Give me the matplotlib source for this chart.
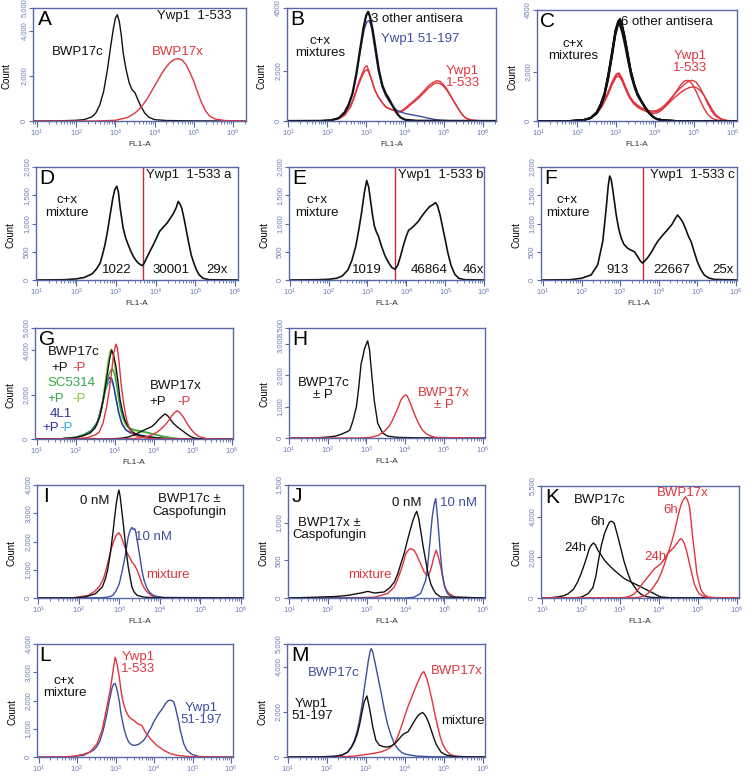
import matplotlib
matplotlib.use('Agg')
import matplotlib.pyplot as plt
import numpy as np
from matplotlib.ticker import LogLocator, NullFormatter

plt.rcParams['font.family'] = ['Liberation Sans', 'DejaVu Sans']
plt.rcParams['mathtext.fontset'] = 'custom'
plt.rcParams['mathtext.rm'] = 'Liberation Sans'
plt.rcParams['mathtext.it'] = 'Liberation Sans'

# ---------------- DATA (log10 FL1-A, count) ----------------
A_c = [(0.9,0),(1.5,5),(2.0,30),(2.2,60),(2.4,180),(2.5,350),(2.6,700),(2.7,1300),(2.8,2300),(2.88,3300),(2.95,4100),(3.0,4550),(3.05,4700),(3.1,4400),(3.15,3800),(3.2,3000),(3.27,2300),(3.35,1700),(3.42,1400),(3.5,1250),(3.56,1000),(3.65,650),(3.75,350),(3.85,170),(4.0,60),(4.3,20),(5.0,5),(6.3,0)]
A_x = [(0.9,0),(2.5,0),(3.0,30),(3.3,150),(3.5,350),(3.65,600),(3.8,950),(3.9,1250),(4.0,1550),(4.1,1850),(4.2,2150),(4.3,2400),(4.4,2600),(4.5,2720),(4.6,2760),(4.7,2700),(4.8,2500),(4.9,2150),(5.0,1750),(5.1,1250),(5.2,800),(5.3,450),(5.4,220),(5.55,80),(5.8,20),(6.3,0)]

B_black = [(0.97,0),(1.8,5),(2.1,30),(2.3,120),(2.45,350),(2.55,650),(2.65,1100),(2.75,1900),(2.85,2900),(2.93,3700),(3.0,4200),(3.05,4350),(3.1,4150),(3.17,3600),(3.25,2800),(3.33,2000),(3.42,1400),(3.5,1100),(3.58,900),(3.68,600),(3.78,320),(3.88,140),(4.0,50),(4.3,10),(6.3,0)]
B_blue = [(0.97,0),(1.8,5),(2.1,30),(2.3,110),(2.45,320),(2.55,600),(2.65,1050),(2.75,1800),(2.85,2800),(2.95,3650),(3.02,3950),(3.08,4000),(3.14,3700),(3.22,2900),(3.3,2100),(3.4,1400),(3.5,1000),(3.6,750),(3.7,550),(3.8,420),(3.9,350),(4.0,300),(4.2,240),(4.4,180),(4.6,110),(4.8,50),(5.0,20),(5.3,5),(6.3,0)]
B_red1 = [(0.97,0),(1.8,5),(2.1,30),(2.3,100),(2.45,250),(2.6,600),(2.7,1000),(2.8,1500),(2.9,1900),(2.97,2150),(3.02,2200),(3.08,1950),(3.15,1600),(3.22,1250),(3.3,1000),(3.4,750),(3.5,560),(3.6,480),(3.7,440),(3.82,360),(3.92,420),(4.03,550),(4.14,700),(4.25,840),(4.38,1030),(4.5,1230),(4.6,1400),(4.7,1520),(4.8,1600),(4.88,1590),(4.95,1500),(5.05,1320),(5.15,1060),(5.25,790),(5.35,520),(5.45,280),(5.55,120),(5.7,30),(6.0,5),(6.3,0)]
B_red2 = [(0.97,0),(1.8,5),(2.1,25),(2.3,90),(2.45,230),(2.6,560),(2.7,950),(2.8,1420),(2.9,1800),(2.97,2000),(3.03,2050),(3.09,1850),(3.16,1520),(3.23,1200),(3.31,960),(3.41,730),(3.51,560),(3.62,470),(3.72,420),(3.83,350),(3.93,390),(4.04,510),(4.15,660),(4.26,800),(4.39,980),(4.51,1170),(4.61,1330),(4.71,1450),(4.8,1520),(4.88,1500),(4.96,1420),(5.06,1250),(5.16,1000),(5.26,750),(5.36,490),(5.46,260),(5.56,110),(5.7,30),(6.0,5),(6.3,0)]

C_black_x = [0.97,1.8,2.15,2.35,2.5,2.6,2.7,2.8,2.9,2.98,3.05,3.1,3.15,3.22,3.3,3.38,3.47,3.55,3.65,3.75,3.85,3.95,4.05,4.25,4.55,6.1]
C_black1 = [0,5,30,120,330,620,1050,1800,2750,3550,4000,4100,3900,3400,2700,2000,1450,1100,800,550,330,170,80,25,5,0]
C_black2 = [0,5,35,130,350,660,1100,1900,2850,3650,4050,4000,3750,3250,2550,1900,1400,1050,780,520,310,160,70,20,5,0]
C_black3 = [0,5,25,110,300,580,1000,1700,2650,3450,3900,3950,3800,3350,2650,1950,1450,1080,800,540,320,165,75,22,5,0]
C_black4 = [0,5,30,125,340,640,1080,1850,2800,3600,4050,4150,3950,3450,2750,2050,1500,1120,820,560,340,175,80,25,5,0]
C_black5 = [0,5,40,140,370,690,1150,1950,2900,3700,4000,3850,3600,3100,2450,1850,1350,1020,760,500,300,150,65,20,5,0]
C_black6 = [0,5,28,115,320,600,1020,1750,2700,3500,3950,4050,3850,3350,2650,1950,1420,1080,790,530,320,160,72,22,5,0]
C_red_x = [0.97,1.8,2.1,2.3,2.5,2.65,2.8,2.9,3.0,3.07,3.15,3.25,3.35,3.45,3.55,3.65,3.75,3.85,3.95,4.05,4.15,4.25,4.35,4.45,4.55,4.65,4.75,4.85,4.95,5.05,5.15,5.25,5.35,5.45,5.55,5.7,5.85,6.1]
C_red1 = [0,5,30,90,300,650,1150,1550,1850,1900,1700,1300,950,720,580,480,400,330,300,330,420,560,760,980,1220,1450,1620,1650,1500,1200,850,520,270,120,50,15,5,0]
C_red2 = [0,5,30,95,320,680,1200,1600,1900,1950,1750,1350,1000,780,640,540,470,420,400,430,520,650,820,1000,1180,1340,1480,1600,1650,1580,1350,1050,700,400,200,60,15,0]
C_red3 = [0,5,25,85,280,620,1100,1480,1780,1820,1620,1250,920,700,560,470,410,370,360,390,470,580,720,880,1020,1150,1260,1340,1380,1360,1250,1050,780,500,260,80,20,0]

D_curve = [(0.98,0),(1.7,5),(2.0,20),(2.2,45),(2.4,110),(2.5,190),(2.6,300),(2.66,450),(2.72,620),(2.79,880),(2.85,1150),(2.92,1450),(2.97,1600),(3.02,1660),(3.06,1560),(3.1,1300),(3.18,920),(3.25,730),(3.31,620),(3.38,500),(3.44,415),(3.5,350),(3.56,300),(3.62,270),(3.67,255),(3.72,310),(3.77,385),(3.85,500),(3.94,620),(4.02,740),(4.1,860),(4.2,940),(4.28,1000),(4.36,1080),(4.45,1180),(4.52,1280),(4.57,1390),(4.62,1340),(4.66,1270),(4.72,1080),(4.78,860),(4.84,640),(4.9,440),(4.97,290),(5.03,180),(5.1,90),(5.2,30),(5.35,5),(6.08,0)]
E_curve = [(0.98,0),(1.7,5),(2.0,12),(2.2,30),(2.35,70),(2.5,180),(2.6,350),(2.7,600),(2.78,900),(2.85,1200),(2.92,1550),(2.98,1760),(3.03,1650),(3.08,1400),(3.13,1150),(3.18,950),(3.23,850),(3.28,780),(3.35,620),(3.45,430),(3.55,300),(3.63,220),(3.71,190),(3.78,260),(3.85,420),(3.92,600),(4.0,780),(4.06,880),(4.12,910),(4.2,960),(4.3,1030),(4.4,1130),(4.5,1220),(4.6,1300),(4.68,1330),(4.75,1370),(4.8,1320),(4.87,1150),(4.93,950),(5.0,720),(5.07,480),(5.15,260),(5.25,100),(5.35,30),(5.5,5),(6.0,0)]
F_curve = [(0.95,0),(1.7,5),(2.0,30),(2.25,90),(2.42,270),(2.55,680),(2.64,1270),(2.69,1650),(2.73,1840),(2.77,1780),(2.81,1600),(2.86,1350),(2.9,1150),(2.96,920),(3.03,740),(3.1,630),(3.2,560),(3.28,530),(3.37,500),(3.45,420),(3.52,340),(3.58,300),(3.63,330),(3.72,400),(3.8,480),(3.9,600),(3.97,680),(4.1,790),(4.23,890),(4.35,990),(4.44,1100),(4.49,1150),(4.55,1100),(4.62,1030),(4.7,900),(4.78,760),(4.84,680),(4.92,500),(5.0,330),(5.08,200),(5.18,90),(5.3,35),(5.45,10),(6.03,0)]
D_gate, E_gate, F_gate = 3.67, 3.71, 3.59

G_c_plus = [(0.96,0),(1.6,5),(2.0,60),(2.2,150),(2.37,270),(2.5,500),(2.62,1000),(2.72,1900),(2.8,2800),(2.87,3600),(2.92,4000),(2.97,3800),(3.03,3300),(3.09,2500),(3.14,1750),(3.2,1250),(3.26,860),(3.35,550),(3.44,340),(3.55,220),(3.65,150),(3.85,80),(4.0,60),(4.3,20),(4.7,5),(6.03,0)]
G_c_minus = [(0.96,0),(1.8,5),(2.1,30),(2.3,60),(2.5,180),(2.6,300),(2.7,700),(2.8,1500),(2.87,2300),(2.92,3000),(2.97,3800),(3.03,4270),(3.07,4100),(3.11,3500),(3.17,2400),(3.23,1600),(3.3,900),(3.38,450),(3.48,200),(3.6,100),(3.8,40),(4.1,10),(6.03,0)]
G_sc_plus = [(0.96,0),(1.6,5),(2.0,80),(2.2,180),(2.4,350),(2.55,700),(2.67,1400),(2.77,2300),(2.85,2900),(2.9,3100),(2.95,3150),(3.0,2900),(3.06,2300),(3.12,1600),(3.2,1000),(3.3,650),(3.4,480),(3.5,420),(3.62,380),(3.75,330),(3.9,270),(4.05,200),(4.2,140),(4.4,70),(4.6,25),(5.0,5),(6.03,0)]
G_sc_minus = [(0.96,0),(1.6,5),(2.0,70),(2.2,170),(2.4,330),(2.55,650),(2.67,1450),(2.76,2600),(2.83,3500),(2.88,3950),(2.92,4050),(2.97,3700),(3.03,2900),(3.1,1900),(3.18,1100),(3.27,650),(3.38,450),(3.5,380),(3.62,340),(3.75,300),(3.9,240),(4.05,180),(4.2,120),(4.4,60),(4.6,20),(5.0,5),(6.03,0)]
G_4l1_plus = [(0.96,0),(1.6,5),(2.0,80),(2.2,190),(2.4,380),(2.55,750),(2.67,1500),(2.76,2300),(2.83,2650),(2.88,2780),(2.93,2700),(2.98,2350),(3.04,1750),(3.1,1200),(3.18,700),(3.28,420),(3.4,280),(3.55,200),(3.7,150),(3.9,90),(4.1,50),(4.4,15),(6.03,0)]
G_4l1_minus = [(0.96,0),(1.6,5),(2.0,70),(2.2,170),(2.4,350),(2.55,700),(2.67,1400),(2.76,2150),(2.83,2500),(2.89,2620),(2.94,2550),(2.99,2250),(3.05,1700),(3.12,1100),(3.2,650),(3.3,400),(3.42,280),(3.55,210),(3.7,160),(3.9,100),(4.1,55),(4.4,15),(6.03,0)]
G_x_plus = [(0.96,0),(2.8,0),(3.0,15),(3.2,40),(3.35,90),(3.5,180),(3.62,290),(3.75,400),(3.85,480),(3.95,560),(4.04,700),(4.12,860),(4.2,1000),(4.29,1130),(4.35,1060),(4.4,950),(4.5,710),(4.62,520),(4.76,340),(4.85,220),(4.93,120),(5.05,40),(5.19,10),(6.03,0)]
G_x_minus = [(0.96,0),(3.2,0),(3.5,20),(3.7,60),(3.85,120),(4.0,220),(4.1,330),(4.16,410),(4.25,560),(4.33,710),(4.4,880),(4.46,1040),(4.53,1180),(4.59,1270),(4.65,1220),(4.72,1080),(4.79,900),(4.85,710),(4.91,550),(4.97,410),(5.06,230),(5.15,120),(5.25,60),(5.35,20),(5.5,5),(6.03,0)]

H_c = [(1.05,0),(1.7,5),(2.0,30),(2.2,60),(2.35,120),(2.5,200),(2.57,250),(2.65,550),(2.74,990),(2.8,1600),(2.86,2350),(2.9,2550),(2.95,2850),(3.03,3090),(3.08,2800),(3.12,2230),(3.2,1200),(3.29,470),(3.42,155),(3.55,60),(3.8,20),(4.3,5),(6.06,0)]
H_x = [(1.05,0),(2.8,0),(3.1,20),(3.3,80),(3.45,200),(3.58,360),(3.67,560),(3.75,780),(3.82,980),(3.88,1190),(3.94,1300),(4.0,1370),(4.05,1340),(4.14,1090),(4.2,880),(4.27,670),(4.35,450),(4.44,260),(4.54,140),(4.64,70),(4.8,15),(6.06,0)]

I_black = [(0.97,0),(1.8,5),(2.15,35),(2.41,150),(2.58,390),(2.65,650),(2.71,980),(2.78,1600),(2.84,2280),(2.88,2800),(2.92,3290),(2.96,3650),(2.99,3820),(3.02,3600),(3.05,3230),(3.1,2600),(3.14,2050),(3.18,1550),(3.22,1100),(3.27,700),(3.31,390),(3.37,200),(3.44,95),(3.61,30),(3.9,10),(6.05,0)]
I_red = [(0.97,0),(1.9,10),(2.24,95),(2.38,220),(2.5,390),(2.6,650),(2.67,980),(2.73,1330),(2.79,1690),(2.86,2000),(2.92,2220),(2.99,2310),(3.04,2200),(3.09,1990),(3.15,1760),(3.2,1570),(3.26,1420),(3.31,1280),(3.38,1150),(3.44,980),(3.5,750),(3.56,510),(3.62,340),(3.69,210),(3.78,100),(3.86,50),(4.1,10),(6.05,0)]
I_blue = [(0.97,0),(2.58,10),(2.75,40),(2.84,95),(2.92,250),(3.0,510),(3.07,950),(3.14,1460),(3.18,1820),(3.22,2170),(3.27,2400),(3.31,2500),(3.35,2420),(3.38,2450),(3.41,2300),(3.44,2050),(3.48,1700),(3.52,1340),(3.56,950),(3.61,630),(3.67,380),(3.74,210),(3.82,110),(3.91,60),(4.1,20),(6.05,0)]

J_black = [(0.97,0),(1.66,10),(2.2,20),(2.51,35),(2.85,66),(3.03,88),(3.2,66),(3.45,80),(3.6,140),(3.71,210),(3.8,320),(3.88,455),(3.97,600),(4.05,765),(4.12,900),(4.18,1010),(4.24,1100),(4.29,1150),(4.34,1060),(4.39,900),(4.45,700),(4.52,500),(4.58,330),(4.65,190),(4.72,110),(4.78,60),(4.9,15),(6.05,0)]
J_red = [(0.97,0),(2.8,5),(3.2,10),(3.54,60),(3.71,145),(3.8,250),(3.88,365),(3.95,480),(4.01,590),(4.08,640),(4.14,655),(4.22,635),(4.28,580),(4.35,500),(4.42,420),(4.48,345),(4.54,310),(4.59,300),(4.64,360),(4.69,455),(4.74,560),(4.79,635),(4.85,540),(4.91,410),(4.95,300),(4.99,190),(5.05,110),(5.12,60),(5.29,10),(6.05,0)]
J_blue = [(0.97,0),(4.0,0),(4.22,10),(4.39,60),(4.52,235),(4.57,420),(4.61,635),(4.65,860),(4.69,1080),(4.74,1250),(4.78,1320),(4.82,1100),(4.86,855),(4.9,580),(4.95,320),(5.01,150),(5.08,60),(5.2,10),(6.05,0)]

K_black6 = [(0.97,0),(1.8,5),(2.0,40),(2.17,200),(2.3,500),(2.38,1100),(2.45,1900),(2.52,2600),(2.6,3170),(2.67,3500),(2.73,3740),(2.79,3770),(2.85,3660),(2.93,3100),(3.03,2350),(3.1,1800),(3.2,1200),(3.28,800),(3.37,540),(3.45,330),(3.54,180),(3.65,80),(3.8,30),(4.1,5),(6.05,0)]
K_black24 = [(0.97,0),(1.15,5),(1.4,50),(1.55,110),(1.66,200),(1.8,420),(1.91,790),(2.0,1200),(2.09,1690),(2.15,2050),(2.21,2430),(2.27,2620),(2.32,2700),(2.37,2600),(2.43,2340),(2.5,2150),(2.6,1850),(2.72,1600),(2.85,1360),(2.98,1150),(3.11,950),(3.24,820),(3.37,700),(3.5,580),(3.62,460),(3.75,330),(3.88,210),(3.96,120),(4.05,50),(4.3,10),(6.05,0)]
K_red24 = [(0.97,0),(2.8,5),(3.1,20),(3.25,90),(3.37,210),(3.45,400),(3.54,620),(3.62,820),(3.71,1030),(3.8,1250),(3.88,1440),(3.97,1570),(4.05,1690),(4.14,1930),(4.22,2180),(4.31,2350),(4.39,2510),(4.47,2720),(4.55,2920),(4.6,2850),(4.65,2670),(4.72,2200),(4.78,1690),(4.84,1200),(4.9,700),(4.97,400),(5.03,210),(5.13,90),(5.25,30),(5.5,5),(6.05,0)]
K_red6 = [(0.97,0),(3.2,5),(3.45,20),(3.6,90),(3.71,210),(3.84,500),(3.97,870),(4.06,1250),(4.14,1690),(4.22,2150),(4.31,2670),(4.4,3300),(4.48,3980),(4.55,4500),(4.61,4800),(4.68,4970),(4.73,4800),(4.78,4480),(4.82,3800),(4.86,3000),(4.92,2050),(4.97,1200),(5.03,700),(5.08,380),(5.16,160),(5.25,50),(5.45,10),(6.05,0)]

L_red = [(0.96,0),(1.6,5),(1.91,25),(2.17,95),(2.34,180),(2.52,470),(2.65,950),(2.76,1660),(2.86,2370),(2.92,2900),(2.95,3200),(2.99,3530),(3.02,3400),(3.05,3200),(3.1,2800),(3.14,2370),(3.18,2050),(3.23,1780),(3.28,1600),(3.34,1440),(3.4,1360),(3.47,1300),(3.57,1180),(3.68,1120),(3.77,890),(3.9,650),(4.07,410),(4.25,240),(4.42,120),(4.59,60),(4.85,20),(5.2,5),(6.05,0)]
L_blue = [(0.96,0),(1.8,5),(2.17,60),(2.43,240),(2.52,380),(2.6,590),(2.68,950),(2.76,1420),(2.81,1800),(2.86,2130),(2.91,2450),(2.95,2580),(2.99,2600),(3.02,2480),(3.05,2310),(3.1,1950),(3.14,1540),(3.19,1200),(3.23,950),(3.28,720),(3.34,530),(3.4,450),(3.47,410),(3.53,420),(3.6,450),(3.66,510),(3.73,590),(3.8,730),(3.86,890),(3.93,1060),(3.99,1240),(4.06,1400),(4.12,1540),(4.19,1660),(4.25,1780),(4.29,1880),(4.33,1950),(4.38,2000),(4.42,2010),(4.47,1990),(4.51,1950),(4.55,1780),(4.59,1540),(4.64,1250),(4.68,950),(4.73,690),(4.77,470),(4.85,240),(4.98,95),(5.16,20),(5.4,5),(6.05,0)]

M_blue = [(0.98,0),(1.8,5),(2.2,30),(2.4,90),(2.54,220),(2.63,450),(2.71,740),(2.78,1150),(2.84,1630),(2.91,2350),(2.97,3110),(3.02,3700),(3.07,4300),(3.11,4650),(3.14,4800),(3.18,4650),(3.23,4250),(3.31,3570),(3.4,2800),(3.48,2070),(3.56,1450),(3.65,960),(3.73,600),(3.82,370),(3.92,200),(4.03,120),(4.3,40),(4.7,10),(6.06,0)]
M_red = [(0.98,0),(2.3,5),(2.7,40),(3.0,110),(3.2,160),(3.4,230),(3.55,330),(3.65,450),(3.74,600),(3.82,900),(3.91,1330),(4.0,1800),(4.08,2220),(4.17,2600),(4.25,2960),(4.32,3250),(4.38,3480),(4.44,3700),(4.49,3780),(4.54,3600),(4.59,3330),(4.65,2900),(4.72,2370),(4.78,1850),(4.85,1330),(4.91,900),(4.97,590),(5.04,350),(5.1,220),(5.18,100),(5.3,40),(5.5,10),(6.06,0)]
M_black = [(0.98,0),(1.8,5),(2.2,30),(2.4,90),(2.54,220),(2.63,420),(2.71,670),(2.78,1000),(2.84,1410),(2.9,1950),(2.96,2440),(3.03,2700),(3.09,2220),(3.14,1750),(3.18,1330),(3.26,740),(3.35,520),(3.45,460),(3.52,440),(3.6,460),(3.69,520),(3.78,650),(3.86,810),(3.93,950),(3.99,1040),(4.08,1110),(4.15,1300),(4.21,1480),(4.27,1650),(4.33,1810),(4.4,1920),(4.46,1970),(4.5,1900),(4.55,1780),(4.62,1500),(4.68,1190),(4.74,880),(4.8,590),(4.87,380),(4.93,220),(5.02,120),(5.1,70),(5.3,20),(6.06,0)]

DECADES = [1, 2, 3, 4, 5, 6]

# ---------------- STYLE ----------------
W, H = 747, 776
fig = plt.figure(figsize=(W / 100, H / 100), dpi=100)
SPINE = '#5869a8'
TLAB = '#6e7db6'
RED = '#e0333d'
BLUE = '#3c4e9e'
BLACK = '#111111'
GREEN = '#35a845'
LGREEN = '#8cc63f'
NAVY = '#2e3192'
CYAN = '#27a9e1'
FS = 9.5


def make_ax(box, xlim, ymax, yticks, ylabels, fl1a=True):
    l, t, r, b = box
    ax = fig.add_axes([l / W, 1 - b / H, (r - l) / W, (b - t) / H])
    ax.set_xscale('log')
    ax.set_xlim(10 ** xlim[0], 10 ** xlim[1])
    ax.set_ylim(0, ymax)
    for s in ax.spines.values():
        s.set_color(SPINE)
        s.set_linewidth(1.0)
    ax.set_xticks([10.0 ** k for k in DECADES])
    ax.set_xticklabels([r'$10^{%d}$' % k for k in DECADES], fontsize=5.5, color=TLAB)
    ax.xaxis.set_minor_locator(LogLocator(base=10, subs=np.arange(2, 10), numticks=20))
    ax.xaxis.set_minor_formatter(NullFormatter())
    ax.tick_params(axis='x', which='major', length=4, width=0.8, color=SPINE, pad=1)
    ax.tick_params(axis='x', which='minor', length=2.5, width=0.6, color=SPINE)
    ax.set_yticks(yticks)
    ax.set_yticklabels(ylabels, rotation=90, va='center', fontsize=5.5, color=TLAB)
    ax.tick_params(axis='y', length=3, width=0.8, color=SPINE, pad=1)
    ax.set_ylabel('Count', fontsize=7)
    ax.yaxis.set_label_coords(-0.1, 0.4)
    if fl1a:
        ax.set_xlabel('FL1-A', fontsize=6, color='#333333', labelpad=1)
    return ax


def curve(ax, pts, color, lw=1.0):
    lx, n = zip(*pts)
    ax.plot(10 ** np.array(lx), n, color=color, lw=lw)


def curve2(ax, lx, n, color, lw=1.0):
    ax.plot(10 ** np.array(lx), n, color=color, lw=lw)


def letter(ax, s, x=0.025, y=0.985):
    ax.text(x, y, s, transform=ax.transAxes, fontsize=15, va='top', ha='left')


def txt(ax, x, y, s, color=BLACK, ha='left', fs=FS, ls=1.05):
    ax.text(x, y, s, transform=ax.transAxes, fontsize=fs, color=color,
            ha=ha, va='center', multialignment='center', linespacing=ls)


T5000 = ([0, 2000, 4000, 5000], ['0', '2,000', '4,000', '5,000'])
T4500 = ([0, 2000, 4500], ['0', '2,000', '4500'])
T2000 = ([0, 500, 1000, 1500, 2000], ['0', '500', '1,000', '1,500', '2,000'])
T4000 = ([0, 1000, 2000, 3000, 4000], ['0', '1,000', '2,000', '3,000', '4,000'])

# A
ax = make_ax((33, 8, 246, 121), (0.9, 6.33), 5000, *T5000)
curve(ax, A_c, BLACK)
curve(ax, A_x, RED)
letter(ax, 'A')
txt(ax, 0.58, 0.93, 'Ywp1  1-533')
txt(ax, 0.09, 0.61, 'BWP17c')
txt(ax, 0.56, 0.61, 'BWP17x', RED)

# B
ax = make_ax((287, 8, 496, 121), (0.97, 6.33), 4500, *T4500)
curve(ax, B_red1, RED)
curve(ax, B_red2, RED)
curve(ax, B_blue, BLUE)
curve(ax, B_black, BLACK, 1.6)
letter(ax, 'B', 0.015)
txt(ax, 0.40, 0.90, '3 other antisera')
txt(ax, 0.45, 0.73, 'Ywp1 51-197', BLUE)
txt(ax, 0.16, 0.655, 'c+x\nmixtures', ha='center')
txt(ax, 0.84, 0.39, 'Ywp1\n1-533', RED, ha='center')

# C
ax = make_ax((537, 10, 737, 121), (0.97, 6.1), 4500, *T4500)
for cr in (C_red1, C_red2, C_red3):
    curve2(ax, C_red_x, cr, RED)
for cb in (C_black1, C_black2, C_black3, C_black4, C_black5, C_black6):
    curve2(ax, C_black_x, cb, BLACK, 1.2)
letter(ax, 'C', 0.015)
txt(ax, 0.42, 0.89, '6 other antisera')
txt(ax, 0.18, 0.64, 'c+x\nmixtures', ha='center')
txt(ax, 0.765, 0.53, 'Ywp1\n1-533', RED, ha='center')

# D, E, F
for box, xl, data, gate, lab, title, nums, lpos in [
        ((36, 167, 238, 280), (0.98, 6.08), D_curve, D_gate, 'D', 'Ywp1  1-533 a',
         [('1022', 0.40), ('30001', 0.67), ('29x', 0.895)], (0.545, 0.155)),
        ((289, 167, 484, 280), (0.98, 6.0), E_curve, E_gate, 'E', 'Ywp1  1-533 b',
         [('1019', 0.40), ('46864', 0.72), ('46x', 0.945)], (0.56, 0.145)),
        ((541, 167, 737, 280), (0.95, 6.03), F_curve, F_gate, 'F', 'Ywp1  1-533 c',
         [('913', 0.39), ('22667', 0.665), ('25x', 0.93)], (0.555, 0.135))]:
    ax = make_ax(box, xl, 2000, *T2000)
    ax.axvline(10 ** gate, color='#c8283a', lw=1.0)
    curve(ax, data, BLACK, 1.2)
    letter(ax, lab, 0.015)
    txt(ax, lpos[0], 0.93, title)
    txt(ax, lpos[1], 0.65, 'c+x\nmixture', ha='center')
    for s, xp in nums:
        txt(ax, xp, 0.085, s, ha='center')

# G
ax = make_ax((35, 328, 233, 439), (0.96, 6.03), 5000, *T5000)
curve(ax, G_4l1_minus, CYAN)
curve(ax, G_4l1_plus, NAVY)
curve(ax, G_sc_minus, LGREEN)
curve(ax, G_sc_plus, GREEN)
curve(ax, G_c_plus, BLACK)
curve(ax, G_c_minus, RED)
curve(ax, G_x_plus, BLACK)
curve(ax, G_x_minus, RED)
letter(ax, 'G', 0.02)
txt(ax, 0.065, 0.78, 'BWP17c')
txt(ax, 0.085, 0.64, '+P')
txt(ax, 0.19, 0.64, '-P', RED)
txt(ax, 0.065, 0.505, 'SC5314', GREEN)
txt(ax, 0.065, 0.36, '+P', GREEN)
txt(ax, 0.19, 0.36, '-P', LGREEN)
txt(ax, 0.075, 0.225, '4L1', NAVY)
txt(ax, 0.035, 0.10, '+P', NAVY)
txt(ax, 0.125, 0.10, '-P', CYAN)
txt(ax, 0.58, 0.48, 'BWP17x')
txt(ax, 0.58, 0.335, '+P')
txt(ax, 0.72, 0.335, '-P', RED)

# H
ax = make_ax((289, 328, 485, 438), (1.05, 6.06), 3500,
             [0, 1000, 2000, 3000, 3500], ['0', '1,000', '2,000', '3,000', '3,500'])
curve(ax, H_c, BLACK)
curve(ax, H_x, RED)
letter(ax, 'H', 0.015)
txt(ax, 0.175, 0.445, 'BWP17c\n± P', ha='center')
txt(ax, 0.79, 0.355, 'BWP17x\n± P', RED, ha='center')

# I
ax = make_ax((37, 485, 243, 598), (0.97, 6.05), 4000, *T4000)
curve(ax, I_red, RED)
curve(ax, I_blue, BLUE)
curve(ax, I_black, BLACK)
letter(ax, 'I', 0.03)
txt(ax, 0.21, 0.86, '0 nM')
txt(ax, 0.74, 0.82, 'BWP17c ±\nCaspofungin', ha='center')
txt(ax, 0.476, 0.54, '10 nM', BLUE)
txt(ax, 0.53, 0.20, 'mixture', RED)

# J
ax = make_ax((288, 485, 485, 598), (0.97, 6.05), 1500,
             [0, 500, 1000, 1500], ['0', '500', '1,000', '1,500'])
curve(ax, J_red, RED)
curve(ax, J_blue, BLUE)
curve(ax, J_black, BLACK)
letter(ax, 'J', 0.02)
txt(ax, 0.53, 0.84, '0 nM')
txt(ax, 0.77, 0.84, '10 nM', BLUE)
txt(ax, 0.21, 0.61, 'BWP17x ±\nCaspofungin', ha='center')
txt(ax, 0.305, 0.20, 'mixture', RED)

# K
ax = make_ax((541, 486, 739, 598), (0.97, 6.05), 5500,
             [0, 2000, 4000, 5500], ['0', '2,000', '4,000', '5,500'])
curve(ax, K_black24, BLACK)
curve(ax, K_black6, BLACK)
curve(ax, K_red24, RED)
curve(ax, K_red6, RED)
letter(ax, 'K', 0.02)
txt(ax, 0.167, 0.875, 'BWP17c')
txt(ax, 0.25, 0.68, '6h')
txt(ax, 0.12, 0.445, '24h')
txt(ax, 0.585, 0.94, 'BWP17x', RED)
txt(ax, 0.62, 0.785, '6h', RED)
txt(ax, 0.52, 0.37, '24h', RED)

# L
ax = make_ax((37, 644, 233, 757), (0.96, 6.05), 4000, *T4000, fl1a=False)
curve(ax, L_blue, BLUE)
curve(ax, L_red, RED)
letter(ax, 'L', 0.01)
txt(ax, 0.14, 0.62, 'c+x\nmixture', ha='center')
txt(ax, 0.515, 0.83, 'Ywp1\n1-533', RED, ha='center')
txt(ax, 0.84, 0.38, 'Ywp1\n51-197', BLUE, ha='center')

# M
ax = make_ax((287, 644, 485, 757), (0.98, 6.06), 5000, *T5000, fl1a=False)
curve(ax, M_blue, BLUE)
curve(ax, M_red, RED)
curve(ax, M_black, BLACK)
letter(ax, 'M', 0.02)
txt(ax, 0.105, 0.74, 'BWP17c', BLUE)
txt(ax, 0.725, 0.76, 'BWP17x', RED)
txt(ax, 0.125, 0.415, 'Ywp1\n51-197', ha='center')
txt(ax, 0.78, 0.32, 'mixture')

fig.savefig('out.png', dpi=100)
